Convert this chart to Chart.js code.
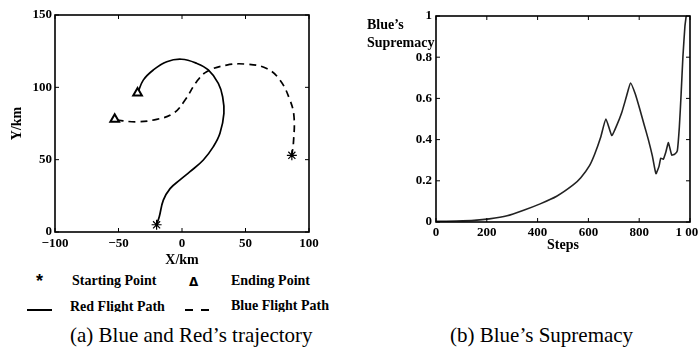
<!DOCTYPE html>
<html>
<head>
<meta charset="utf-8">
<script src="https://cdn.jsdelivr.net/npm/chart.js@4.4.1/dist/chart.umd.min.js"></script>
<style>
  body { margin: 0; background: #fff; width: 698px; height: 351px; overflow: hidden; position: relative; font-family: "Liberation Serif", serif; color: #000; }
  #wrapA { position: absolute; left: 0; top: 0; width: 330px; height: 270px; }
  #wrapB { position: absolute; left: 340px; top: 0; width: 370px; height: 260px; }
  .t { position: absolute; white-space: nowrap; line-height: 16px; }
  .lg { font-weight: bold; font-size: 14px; }
  .cap { font-size: 21px; line-height: 24px; }
</style>
</head>
<body>
<div id="wrapA"><canvas id="trajChart" width="330" height="270"></canvas></div>
<div id="wrapB"><canvas id="supChart" width="370" height="260"></canvas></div>

<div class="t" style="left:367px;top:16px;font-weight:bold;font-size:14px;line-height:18px;">Blue’s<br>Supremacy</div>

<!-- legend for (a) -->
<div class="t" style="left:36px;top:273px;font-family:'Liberation Sans';font-weight:bold;font-size:18px;">*</div>
<div class="t lg" style="left:72px;top:273px;">Starting Point</div>
<div class="t" style="left:189px;top:274px;font-family:'DejaVu Sans';font-weight:bold;font-size:12px;">Δ</div>
<div class="t lg" style="left:231px;top:273px;">Ending Point</div>
<div class="t" style="left:27px;top:309px;width:25px;height:2px;background:#000;"></div>
<div class="t lg" style="left:70px;top:299px;height:13px;overflow:hidden;">Red Flight Path</div>
<div class="t" style="left:185px;top:309px;width:8px;height:2px;background:#000;"></div>
<div class="t" style="left:201px;top:309px;width:8px;height:2px;background:#000;"></div>
<div class="t lg" style="left:231px;top:298px;height:14px;overflow:hidden;">Blue Flight Path</div>

<div class="t cap" style="left:70px;top:323px;">(a) Blue and Red’s trajectory</div>
<div class="t cap" style="left:450px;top:323px;">(b) Blue’s Supremacy</div>

<script>
// (a) flight paths, km
const redX = [-19.9, -17.9, -14.7, -9.4, -1.6, 6.3, 16.8, 24.7, 29.9, 33, 32, 28.6, 20.7, 11.5, -0.3, -12, -22.6, -30.5, -34.9];
const redY = [5.5, 10.6, 22, 30, 36, 41.7, 49.8, 59, 68.2, 82, 93.5, 102.8, 112, 116.6, 119.4, 117.7, 112, 105, 95.9];
const blueX = [86.3, 87.7, 88.2, 85, 77.2, 66.7, 51, 35.2, 19.4, 11.5, 2.4, -6.8, -19.9, -35.7, -52.8];
const blueY = [52.5, 61.3, 79.7, 91.2, 105, 113, 116, 115.4, 110.8, 103.9, 91.2, 82, 77.9, 76.2, 77.4];
const startX = [-20, 86.5];
const startY = [5, 53];
const endX = [-35, -53];
const endY = [96, 78];

// (b) blue's supremacy over steps
const steps = [0, 80, 150, 210, 280, 345, 410, 475, 540, 570, 605, 625, 648, 669, 692, 712, 731, 750, 766, 785, 803, 820, 836, 852, 866, 878, 885, 895, 905, 915, 928, 940, 950, 958, 965, 972, 980, 985];
const supremacy = [0.003, 0.005, 0.008, 0.015, 0.03, 0.057, 0.088, 0.125, 0.18, 0.215, 0.275, 0.33, 0.41, 0.5, 0.42, 0.47, 0.53, 0.61, 0.675, 0.62, 0.545, 0.47, 0.4, 0.32, 0.235, 0.27, 0.31, 0.305, 0.34, 0.385, 0.325, 0.33, 0.345, 0.46, 0.62, 0.8, 0.95, 1.0];

const xyPairs = (xs, ys) => xs.map((x, i) => ({ x: x, y: ys[i] }));

Chart.defaults.font.family = "'Liberation Serif', serif";
Chart.defaults.color = '#000';

// box around the plot with small inward ticks, like the paper figure
const frameTicks = {
  id: 'frameTicks',
  afterDraw(chart) {
    const { ctx, chartArea: a, scales } = chart;
    ctx.save();
    ctx.strokeStyle = '#000';
    ctx.lineWidth = 1;
    ctx.beginPath();
    scales.x.ticks.forEach((t, i) => {
      const px = scales.x.getPixelForTick(i);
      ctx.moveTo(px, a.bottom); ctx.lineTo(px, a.bottom - 4);
      ctx.moveTo(px, a.top); ctx.lineTo(px, a.top + 4);
    });
    scales.y.ticks.forEach((t, i) => {
      const py = scales.y.getPixelForTick(i);
      ctx.moveTo(a.left, py); ctx.lineTo(a.left + 4, py);
      ctx.moveTo(a.right, py); ctx.lineTo(a.right - 4, py);
    });
    ctx.stroke();
    ctx.lineWidth = 1.6;
    ctx.strokeRect(a.left, a.top, a.right - a.left, a.bottom - a.top);
    ctx.restore();
  }
};

const tickFont = { size: 13, weight: 'bold' };
const noGrid = { display: false, drawTicks: false };

new Chart(document.getElementById('trajChart'), {
  type: 'scatter',
  data: {
    datasets: [
      { label: 'Starting Point', data: xyPairs(startX, startY), pointStyle: 'star', pointRadius: 5, borderColor: '#000', borderWidth: 1.2 },
      { label: 'Ending Point', data: xyPairs(endX, endY), pointStyle: 'triangle', pointRadius: 5, borderColor: '#000', backgroundColor: '#fff', borderWidth: 2 },
      { label: 'Red Flight Path', data: xyPairs(redX, redY), showLine: true, borderColor: '#000', borderWidth: 1.7, pointRadius: 0, tension: 0.4 },
      { label: 'Blue Flight Path', data: xyPairs(blueX, blueY), showLine: true, borderColor: '#000', borderWidth: 1.7, borderDash: [7, 5], pointRadius: 0, tension: 0.4 }
    ]
  },
  options: {
    responsive: false,
    animation: false,
    layout: { padding: { top: 15, right: 21, left: 0, bottom: 0 } },
    plugins: { legend: { display: false }, tooltip: { enabled: false } },
    scales: {
      x: {
        type: 'linear', min: -100, max: 100,
        grid: noGrid, border: { display: false },
        ticks: { stepSize: 50, padding: 4, font: tickFont, callback: v => String(v).replace('-', '\u2212') },
        title: { display: true, text: 'X/km', font: { size: 14, weight: 'bold' }, padding: { top: 0, bottom: 1 } },
        afterFit(s) { s.height = 38; }
      },
      y: {
        min: 0, max: 150,
        grid: noGrid, border: { display: false },
        ticks: { stepSize: 50, padding: 3, font: tickFont },
        title: { display: true, text: 'Y/km', font: { size: 14, weight: 'bold' }, padding: { top: 9, bottom: 0 } },
        afterFit(s) { s.width = 55; }
      }
    }
  },
  plugins: [frameTicks]
});

new Chart(document.getElementById('supChart'), {
  type: 'scatter',
  data: {
    datasets: [
      { label: "Blue's Supremacy", data: xyPairs(steps, supremacy), showLine: true, borderColor: '#222', borderWidth: 1.6, pointRadius: 0, tension: 0.15 }
    ]
  },
  options: {
    responsive: false,
    animation: false,
    layout: { padding: { top: 16, right: 20, left: 0, bottom: 0 } },
    plugins: { legend: { display: false }, tooltip: { enabled: false } },
    scales: {
      x: {
        type: 'linear', min: 0, max: 1000,
        grid: noGrid, border: { display: false },
        ticks: { stepSize: 200, padding: 3, font: tickFont, callback: v => v === 1000 ? '1 000' : String(v) },
        title: { display: true, text: 'Steps', font: { size: 14, weight: 'bold' }, padding: { top: 0, bottom: 6 } },
        afterFit(s) { s.height = 38; }
      },
      y: {
        min: 0, max: 1,
        grid: noGrid, border: { display: false },
        ticks: { stepSize: 0.2, padding: 4, font: tickFont, callback: v => (v === 0 || v === 1) ? String(v) : v.toFixed(1) },
        afterFit(s) { s.width = 96; }
      }
    }
  },
  plugins: [frameTicks]
});
</script>
</body>
</html>
